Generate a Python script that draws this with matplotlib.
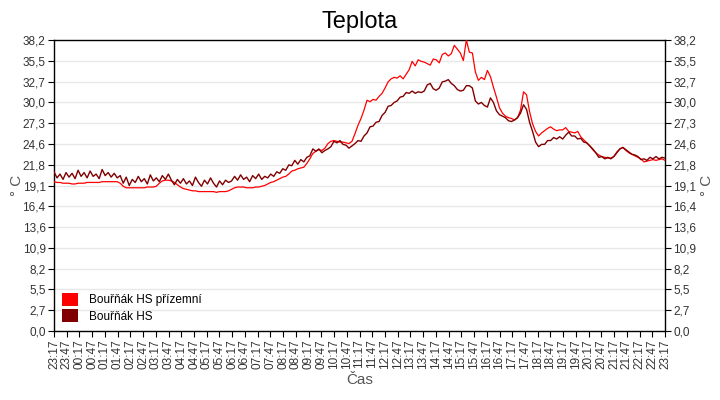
import numpy as np
import matplotlib
matplotlib.use("Agg")
import matplotlib.pyplot as plt
from matplotlib.patches import Patch

plt.rcParams['font.family'] = ['Liberation Sans', 'DejaVu Sans']

title = "Teplota"
series_names = ["Bouřňák HS přízemní", "Bouřňák HS"]
colors = ["#ff0000", "#800000"]

# hours since 23:17 (day span 24 h), evenly sampled
prizemni = [
    19.6,19.5,19.5,19.4,19.4,19.4,19.3,19.3,19.4,19.4,
    19.4,19.5,19.5,19.5,19.5,19.5,19.6,19.6,19.6,19.6,
    19.6,19.6,19.4,19.0,18.8,18.8,18.8,18.8,18.8,18.8,
    18.8,18.9,18.9,18.9,19.0,19.4,19.7,19.8,19.8,19.7,
    19.5,19.2,18.9,18.7,18.6,18.5,18.4,18.4,18.3,18.3,
    18.3,18.3,18.3,18.3,18.2,18.3,18.3,18.3,18.4,18.6,
    18.8,18.9,18.9,18.9,18.8,18.8,18.8,18.9,18.9,19.0,
    19.1,19.3,19.5,19.6,19.8,20.0,20.2,20.3,20.6,21.0,
    21.1,21.3,21.4,21.5,22.0,22.6,23.3,23.6,23.8,23.7,
    24.0,24.6,24.9,25.0,24.9,24.8,24.8,24.7,24.6,24.9,
    25.9,27.0,27.9,29.0,30.3,30.1,30.4,30.3,30.8,31.2,
    31.9,32.7,33.1,33.3,33.2,33.5,33.1,33.7,34.3,35.4,
    34.8,35.6,35.4,35.3,35.1,34.9,35.7,35.6,35.2,36.3,
    36.5,36.1,36.4,37.5,37.0,36.5,35.5,38.2,36.6,36.5,
    34.0,32.9,33.3,33.0,34.2,33.4,32.0,30.7,29.3,28.6,
    28.2,28.0,27.9,27.7,28.0,29.0,31.4,31.0,28.8,27.2,
    26.2,25.6,26.0,26.3,26.6,26.8,26.5,26.3,26.4,26.4,
    26.7,26.2,26.1,26.0,26.2,25.5,25.1,24.7,24.3,23.8,
    23.4,23.1,22.9,22.8,22.7,22.7,22.9,23.5,23.9,24.1,
    23.7,23.4,23.2,23.0,22.8,22.6,22.2,22.3,22.4,22.5,
    22.4,22.5,22.6,22.4,
]

hs = [
    20.9,20.1,20.6,19.9,20.8,20.2,20.7,20.0,21.1,20.3,
    20.8,20.1,21.0,20.3,20.6,20.0,21.2,20.4,20.8,20.2,
    20.7,20.1,20.4,
    19.4,20.2,19.1,19.9,19.5,20.3,19.6,20.0,19.3,20.5,19.7,20.1,19.6,
    20.4,19.9,20.6,19.8,
    19.2,19.9,19.4,20.0,19.3,19.7,19.1,20.2,19.5,19.0,19.8,19.3,20.1,19.4,18.9,19.7,19.2,19.8,19.5,
    19.7,20.3,19.8,20.5,19.9,20.2,19.6,20.4,20.0,20.6,19.9,20.3,20.1,20.6,
    20.3,20.9,20.7,21.3,21.1,21.8,21.7,
    22.4,21.9,22.5,22.2,22.8,23.0,23.9,23.6,23.9,23.4,
    23.7,23.9,24.2,24.9,24.7,25.0,24.5,24.4,24.0,24.3,
    24.6,25.0,24.9,25.6,26.0,26.8,26.9,27.4,27.5,28.3,
    28.7,29.5,29.6,30.0,30.2,30.7,30.8,31.3,31.2,31.5,
    31.2,31.4,31.3,31.5,32.3,32.5,31.8,31.6,31.9,32.7,
    32.8,33.0,32.5,32.2,31.7,31.5,31.6,32.2,32.2,31.9,
    30.2,29.8,30.0,29.6,29.4,30.6,30.0,28.9,28.4,28.2,
    28.0,27.6,27.5,27.7,28.0,28.6,29.7,29.1,27.4,26.2,
    24.8,24.2,24.5,24.5,25.0,25.0,25.4,25.2,25.5,25.2,
    25.7,26.1,25.6,25.6,25.2,25.3,24.8,24.7,24.3,23.9,
    23.4,22.8,22.9,22.6,22.8,22.6,22.9,23.4,23.9,24.1,
    23.8,23.5,23.2,23.1,22.9,22.5,22.6,22.4,22.8,22.6,
    22.9,22.6,22.8,22.7,
]

x_labels = ["23:17","23:47","00:17","00:47","01:17","01:47","02:17","02:47",
            "03:17","03:47","04:17","04:47","05:17","05:47","06:17","06:47",
            "07:17","07:47","08:17","08:47","09:17","09:47","10:17","10:47",
            "11:17","11:47","12:17","12:47","13:17","13:47","14:17","14:47",
            "15:17","15:47","16:17","16:47","17:17","17:47","18:17","18:47",
            "19:17","19:47","20:17","20:47","21:17","21:47","22:17","22:47","23:17"]
y_labels = ["0,0","2,7","5,5","8,2","10,9","13,6","16,4","19,1","21,8",
            "24,6","27,3","30,0","32,7","35,5","38,2"]
y_max = 38.2
span_hours = 24.0

fig = plt.figure(figsize=(7.2, 4.0), dpi=100)
ax = fig.add_axes([54/720, 69/400, 611/720, 291/400])

t1 = np.linspace(0, span_hours, len(prizemni))
t2 = np.linspace(0, span_hours, len(hs))
ax.plot(t1, prizemni, color=colors[0], lw=0.9, zorder=3)
ax.plot(t2, hs, color=colors[1], lw=1.0, zorder=4)

ax.set_xlim(0, span_hours)
ax.set_ylim(0, y_max)
yt = np.linspace(0, y_max, len(y_labels))
ax.set_yticks(yt)
ax.set_yticklabels(y_labels)
xt = np.linspace(0, span_hours, len(x_labels))
ax.set_xticks(xt)
ax.set_xticklabels(x_labels, rotation=90)
ax.grid(axis='y', color='#e8e8e8', lw=1.0, zorder=0)
ax.set_axisbelow(True)

ax.tick_params(axis='both', labelsize=8.5, labelcolor='#333333', length=4, width=0.8,
               direction='out', pad=2)
ax.tick_params(axis='y', which='both', right=True, labelright=True)
for s in ax.spines.values():
    s.set_linewidth(1.0)
    s.set_color('black')

ax.set_ylabel("° C", fontsize=11, color='#555555', labelpad=-1)
ax2 = ax.secondary_yaxis('right')
ax2.set_yticks([])
ax2.set_ylabel("° C", fontsize=11, color='#555555', labelpad=25)
ax2.spines['right'].set_visible(False)
ax.set_xlabel("Čas", fontsize=11, color='#555555', labelpad=3)
fig.text(0.5, 0.945, title, ha='center', va='center', fontsize=17, color='black')

handles = [Patch(facecolor=c, edgecolor='none') for c in colors]
ax.legend(handles, series_names, loc='lower left', bbox_to_anchor=(0.0, 0.0),
          frameon=False, fontsize=8.5, handlelength=1.35, handleheight=1.35,
          handletextpad=0.9, labelspacing=0.25, borderaxespad=0.3)

fig.savefig("out.png", dpi=100)
